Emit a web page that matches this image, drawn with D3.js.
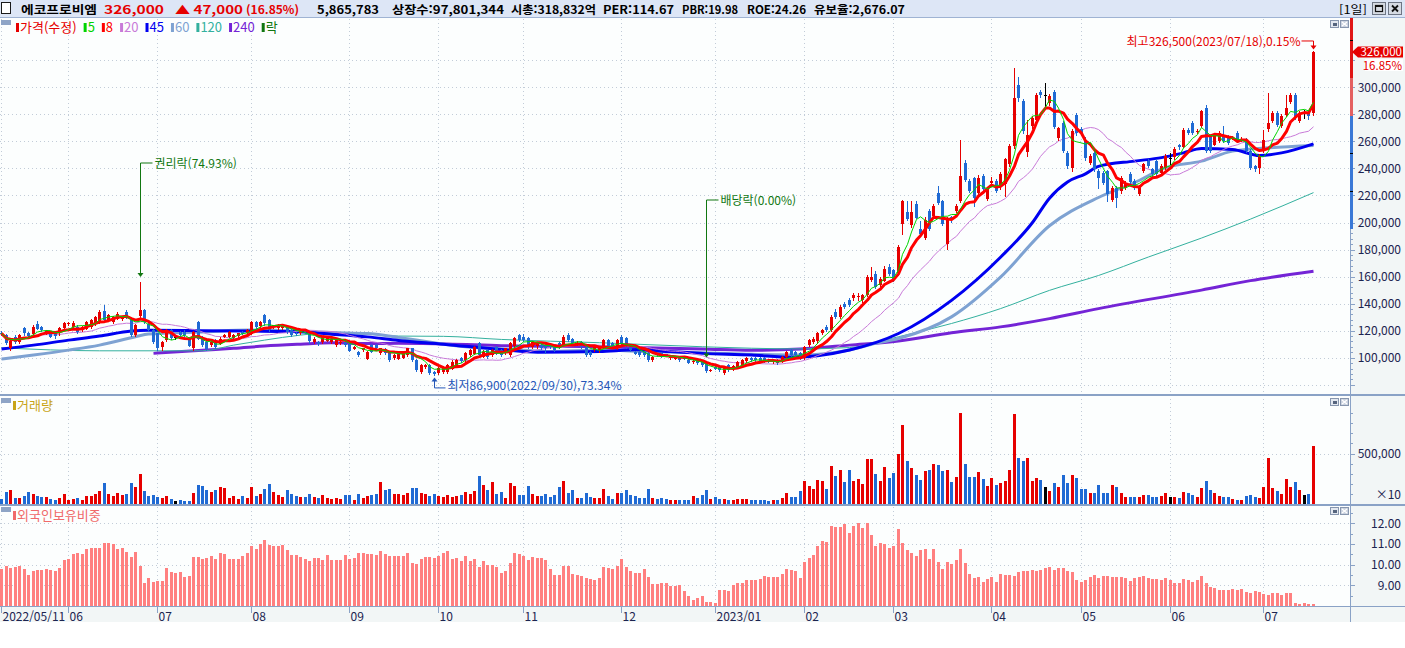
<!DOCTYPE html>
<html lang="ko">
<head>
<meta charset="utf-8">
<title>에코프로비엠 일봉</title>
<script src="https://cdn.jsdelivr.net/npm/d3@7/dist/d3.min.js"></script>
<style>
  html, body { margin: 0; padding: 0; background: #fff; overflow: hidden; }
  svg { display: block; }
  text { font-family: "Noto Sans CJK KR", "Noto Sans", sans-serif; }
</style>
</head>
<body>
<svg id="chart" width="1405" height="648"></svg>
<script>
// 가격은 천원, 거래량은 천주(화면 표시 x10) 단위
const UNIT = 1000;

const stockName = "에코프로비엠";
const tradeVolume = 5865783;
const listedShares = 97801344;
const marketCap = 318832; // 억
const per = 114.67;
const pbr = 19.98;
const roe = 24.26;
const reserveRatio = 2676.07;

const firstDay = "2022-05-11";
const lastDay = "2023-07-18";
const holidays = ["2022-06-01", "2022-06-06", "2022-08-15", "2022-09-09", "2022-09-12",
  "2022-10-03", "2022-10-10", "2022-12-30", "2023-01-23", "2023-01-24", "2023-03-01",
  "2023-05-01", "2023-05-05", "2023-05-29", "2023-06-06"];

const open = [
  118.5,116.7,106.9,115.4,111.8,121.6,118,117.9,125.2,122.8,
  117.9,119.1,117.9,117.9,122.3,124.8,122.8,122.8,120.4,121.6,
  122.8,125.2,126.5,134.5,127.7,126.5,128.9,128.5,133.8,127.7,
  116.7,130.6,135.1,125.2,120.4,117.9,108.1,113,120.4,115.4,
  119.1,119.1,114.2,106.9,126.5,115.4,111.8,109.3,113,110.5,
  115.4,115.4,114.2,115.4,119.1,117.9,117.9,126.5,123.3,131.4,
  127.7,122.8,121.6,121.6,122.8,120.4,118.4,117.9,119.6,117.9,
  111.8,111.8,111.8,113,111.8,109.3,111.3,111.8,110.5,106.9,
  104.4,105.6,99.5,109.3,109.3,103.2,106.1,103.2,99.5,99.5,
  100.2,102,106.9,98.3,89.7,93.4,94.6,89.7,88.5,89.7,
  89.7,92.2,93.4,99.6,98.3,102,103.2,110.6,100.8,105.7,
  102,108.2,105.7,103.2,102,108.2,116.7,115.5,114.3,108.2,
  108.2,109.4,109.4,108.5,108.2,110.6,110.6,116.7,113.5,110.1,
  111.8,108.2,104.5,105.7,105.2,108.2,113.1,110.6,106.9,115.5,
  114.3,109.4,104.5,104.5,104.5,103.2,98.3,103.2,103.7,102.5,
  99.3,99.3,100.3,100,98.3,96.6,98.3,97.1,95.9,90.5,
  93.4,93.4,88.5,94.7,91.5,93.4,94.7,97.1,99.6,99.6,
  99.6,99.6,98.3,96.6,98.3,97.1,100.8,105.7,104.5,103.2,
  99.6,109.3,111.8,111.8,117.9,122.8,120.4,133.8,130.2,140,
  142.4,143.6,144.5,142.4,146.1,157.1,162,153.5,157.1,166.9,
  164.5,162,198.8,207.5,197.6,214,195.1,188.5,208.6,204.9,
  222.1,216,184,203.7,208.6,216,244.2,230.7,233.1,222.1,
  234.3,217.2,229.5,230.7,225.8,228.2,242.9,256.4,301.7,289.5,
  252.7,271.1,276,296.5,294.4,288.2,296.8,262.5,273.5,251.5,
  240.4,279.7,269.4,261.3,244.1,251.5,238,236.8,238.1,217.2,
  225.8,223.4,225.8,235.6,230.7,220.9,238.1,245.4,239.3,245.4,
  236.8,240.5,247.9,247.9,257,256.4,268.7,273.5,266.8,271.2,
  284.6,263.8,257.7,260.1,263.8,263.8,262.1,266.3,261.1,261.3,
  252.8,241.7,240.5,252.8,268.7,274.8,281,271.2,279.7,289.5,
  294.4,274.8,281,281,281
];
const high = [
  120,117.5,113,116.5,117.5,122.5,119,124,127,123.5,
  120.5,120,118.5,122.5,126.5,126.5,127,124,123.5,127.5,
  128.5,131,135,138.7,132.5,131,134,130.5,135,128.5,
  125,155.9,136,126,121,118.5,112.5,121,121.5,117,
  120,120.5,115,120,127.5,116,112.5,112.5,114,115,
  117.5,120,117.5,118.5,119.5,121,127.5,127,127,132.6,
  128.5,124.5,125,124,123.5,121,119,121,120.5,118.5,
  115,112.5,116,115.5,115,113.5,112.5,112.5,111,108.5,
  105,107.5,105,110,110,107.5,107,104,102.5,105,
  105,107.5,107.5,99,95.5,95.5,95.5,90.5,93,94,
  95.5,98,99,100.5,104.5,106.5,109,111.5,105.5,106.5,
  106.5,109,106.5,107.5,111.5,115,117.5,117.5,115,112.5,
  111.5,110,110,109,109,111.5,116.5,118,114.5,112,
  112.5,109,105,109,107.5,114,114,111.5,114,116.7,
  115,110,105,105,105,104,101.5,103.8,104.5,103,
  101,101,101,100.5,99,98,99,97.8,96.5,92,
  94,94,93,95.5,94.5,97.8,99,100.3,100.3,100.3,
  100.5,100.5,99,98,99,101.5,105.3,106.5,105.3,104,
  109,114,115,119,121.5,124,131.5,136,139,141.5,
  144,147.5,147.5,147,161,167,164,159.5,168,169,
  165.5,183,217,216,216,216,201,204,210,214,
  227,217,204,205,214,261.3,246,232,234,235,
  236,226,234,232,237,248,258,314,307.7,291,
  276,279,296,298,303,295,298,271,275,253,
  269,281,271,263,251,253,239.5,238,239,227,
  227,234.5,231,237,232,228,244,247,240.5,247,
  243,250.5,251.5,255.5,258,270,270,275,269,283.5,
  287,265,266.5,267.5,271.2,265,264,267.5,263,262.5,
  254,242.5,250.5,268.7,295.7,282.5,282.5,280,294.4,296,
  296,282.5,283.5,282,326.5
];
const low = [
  116.5,110,105.6,111,111,117,115.5,117.5,121,119.5,
  117.5,115,114.5,117,121.5,124,122,118.5,119.5,121,
  122,124.5,126,127,127,126,128.5,128,129,116,
  116,130,126,119.5,111,106,105.6,112.5,113.5,114,
  116,116,108.5,106,113.5,108.5,106,108.5,107.5,110,
  115,115,113.5,115,117.5,117.5,117.5,122,122.5,124.5,
  119.5,122,121,121,118.5,116,116.5,117.5,118,111,
  111,109.5,111,112.5,111,108.5,110.5,108.5,105,106.5,
  101.5,105,99,104,106.5,102.5,102.5,97.5,99,99,
  99.5,101.5,97.5,90,89,92.5,88,86.9,88,89,
  89,91.5,93,96.5,97.5,101.5,102.5,101.5,100.5,100,
  101.5,102.5,101.5,102.5,101.5,107.5,112.5,112.5,107.5,107.5,
  107.5,106.5,103.2,107,105,107.5,110,112.5,110,109.5,
  107.5,101.5,101.5,105,104.5,107.5,107.5,107.5,106.5,110,
  107.5,105,102.5,101.5,101.5,97.5,97.5,101.5,100.8,101,
  98.8,98.8,97.8,98.8,96,96.2,95.5,94.2,89.3,90,
  91.5,90.5,88,90.5,91,93,94.2,96.5,97.8,97.8,
  96.6,96.6,96.6,96,95.4,96.6,100.3,101.5,101.5,99,
  99,108.5,111,111,117.5,119.5,119.5,129.5,129.5,136.5,
  138,143,143,141.5,145.5,156.5,151.5,153,156.5,161.5,
  156.5,161.5,191.5,201.5,196.5,203,190.5,188,194.5,204,
  214,198,180.4,200.5,207.5,215,231,222.5,212.3,221,
  223.5,216.5,228.5,222.5,225,219.6,242,255,290,266,
  249,270,275,293,284.6,287,270,261,252,240.5,
  238,265,264.5,246.5,243,238,225.7,228.5,216,216,
  211.1,222,224.5,228.5,225,220,237,241,234.5,234.5,
  236,239.5,243,247,254.5,255.5,265.5,265.5,266,270.5,
  252,252,257,259.5,259.5,258,261.5,259.5,260.5,252,
  239.5,238,236.8,252,267.5,274,271.5,270.5,279,288.5,
  276.5,274,277.3,276.5,279.5
];
const close = [
  118,110.5,112.3,111.8,116.7,117.9,116,122.8,121.6,120.4,
  119.9,115.4,115.4,121.6,125.7,125.5,125.7,119.1,122.8,126.5,
  127.7,130.1,133.8,127.7,131.4,130.1,132.6,129.5,129.7,116.7,
  124,135.1,126.5,120.4,111.8,106.9,111.8,120.4,114.2,115.4,
  116.7,116.7,109.3,119.1,114.2,109.3,106.9,111.8,108.1,114.2,
  116.7,119.1,116.7,117.9,117.9,120.4,126.5,122.8,126.5,125.2,
  120.4,124,124,123.3,119.1,116.7,117.4,120.4,118.9,111.8,
  114.2,110,115.4,114.9,114.2,113,111.8,109.3,105.6,108.1,
  102,106.9,104.4,104.4,106.9,106.9,103.2,98.3,102,104.4,
  104.4,106.9,98.3,90.9,94.6,94.6,88.5,88.5,92.1,93.4,
  94.6,97.1,98.3,97.1,103.7,105.7,108.2,102,104.5,100.8,
  105.7,103.2,102,106.9,110.6,114.3,113.1,113.1,108.2,111.8,
  110.6,106.9,107.5,107.8,105.7,108.2,115.5,113.1,110.6,111.1,
  108.2,102,102,108.2,106.9,113.1,108.2,108.2,113.1,110.6,
  108.2,105.7,103.2,102,102,98.3,100.8,102,101.3,101.5,
  100.3,100.1,98.3,99.3,96.4,97.4,95.9,94.7,89.8,91.2,
  92.2,91,92.2,91,93.9,97.1,98.3,99.6,98.3,98.3,
  97.1,97.1,97.1,97.4,95.9,100.8,104.5,102,102,99.6,
  108.1,113,114.2,117.9,120.4,120.4,130.2,130.2,137.5,137.5,
  138.8,146.1,145.5,146.1,159.6,159.6,152.2,158.3,165.7,162,
  157.1,181.6,216,202.5,207.5,203.7,191.5,201.8,195.1,212.3,
  214.7,198.8,202.5,201.3,212.3,234.3,231.9,223.3,218.4,233.1,
  224.5,224.5,231,223.3,235.6,246.6,256.4,291.9,292,267.4,
  265,277.2,294.4,294.5,294.4,293.2,271.1,269.9,252.7,241.7,
  268,266.2,265.7,247.8,249,239.3,233.1,229.5,220.9,225.8,
  218.5,233.2,229.5,229.5,225.8,227,243,241.7,235.6,235.6,
  241.7,249.1,247.9,254,255.7,268.7,266.3,266.3,267.8,282.2,
  252.8,252.8,265,266.3,260.1,258.9,263.1,260.1,262.1,252.8,
  240.5,239.3,249.1,261.3,273.5,281,272.4,278.5,284.6,294.4,
  277.3,281,281,279,326
];
const volume = [
  53,116,136,56,56,76,116,103,76,66,
  66,46,36,56,96,36,46,56,36,76,
  76,96,126,205,96,76,106,86,96,205,
  165,294,126,76,86,66,56,76,46,26,
  36,26,26,106,185,175,136,116,136,165,
  155,56,76,46,76,56,165,76,96,146,
  195,116,86,66,136,96,76,66,66,96,
  66,56,86,56,46,56,46,86,86,36,
  96,56,76,86,96,215,136,146,96,96,
  86,106,155,155,106,96,76,96,76,66,
  86,66,76,86,116,96,126,275,185,136,
  215,96,116,56,205,175,86,86,175,96,
  76,76,96,66,86,165,225,106,136,56,
  56,106,66,56,56,146,76,46,106,106,
  136,86,76,56,56,146,56,46,56,46,
  36,36,36,36,36,76,56,
  86,136,46,66,46,46,36,36,46,46,
  46,36,36,36,36,26,36,36,56,106,
  66,66,126,225,175,146,235,225,146,374,
  275,334,215,334,225,245,195,443,443,294,
  225,364,255,304,493,781,423,354,284,235,
  324,334,394,384,324,334,215,265,900,394,
  265,265,314,245,175,255,185,205,225,334,
  890,453,423,453,225,255,235,165,126,205,
  165,284,205,284,255,146,146,106,106,185,
  106,106,185,165,106,66,66,66,66,86,86,
  66,66,76,106,66,66,56,116,106,86,
  66,155,225,136,106,76,66,66,46,36,
  36,76,86,66,56,165,453,155,126,96,
  245,165,215,136,86,96,572
];
const foreignRatio = [
  9.79,9.94,9.86,9.91,9.94,9.79,9.50,9.70,9.74,9.74,
  9.79,9.74,9.70,9.84,10.23,10.27,10.52,10.56,10.52,10.76,
  10.80,10.80,10.80,11.05,11.05,11.00,10.76,10.80,10.61,10.37,
  10.61,9.94,9.12,9.36,9.18,9.21,9.21,9.84,9.65,9.60,
  9.65,9.41,9.46,10.37,10.37,10.29,10.32,10.42,10.27,10.56,
  10.52,10.27,10.27,10.27,10.42,10.56,10.90,10.76,11.00,11.19,
  10.95,10.90,10.90,10.95,10.71,10.47,10.47,10.37,10.27,10.18,
  10.32,10.32,10.23,10.47,10.23,10.23,10.23,10.47,10.27,10.32,
  10.56,10.56,10.52,10.52,10.47,10.66,10.52,10.42,10.42,10.42,
  10.42,10.56,10.08,10.03,10.27,10.37,10.37,10.32,10.42,10.56,
  10.66,10.27,10.32,10.18,10.42,10.18,10.27,9.89,10.18,9.99,
  9.99,9.89,9.60,9.70,10.08,10.56,10.52,10.42,10.23,10.37,
  10.32,10.32,10.23,9.79,9.50,9.50,9.94,9.94,9.55,9.50,
  9.46,9.36,9.31,9.26,9.36,9.89,9.84,9.79,9.94,10.27,
  9.89,9.70,9.60,9.60,9.79,9.41,9.07,9.07,9.12,9.12,
  8.97,8.97,9.02,8.73,8.49,8.30,8.40,
  8.49,8.20,8.20,8.15,8.78,8.78,8.73,9.02,9.12,9.12,
  9.26,9.26,9.26,9.31,9.46,9.41,9.41,9.41,9.55,9.79,
  9.74,9.70,9.36,10.13,10.32,10.47,10.90,11.15,11.10,11.86,
  11.82,11.82,11.96,11.53,11.86,12.01,11.77,12.01,11.43,10.90,
  11.05,11.00,10.80,10.90,11.72,11.05,10.71,10.56,10.42,10.71,
  10.76,10.27,10.76,10.13,9.79,10.13,10.03,10.23,10.76,10.08,
  9.55,9.36,9.41,9.17,9.31,9.41,9.17,9.55,9.50,9.50,
  9.46,9.65,9.70,9.70,9.74,9.70,9.74,9.84,9.89,9.74,
  9.84,9.84,9.70,9.65,9.26,9.17,9.26,9.41,9.50,9.36,9.46,
  9.46,9.41,9.41,9.41,9.36,9.21,9.36,9.41,9.46,9.36,
  9.31,9.31,9.26,9.36,9.26,9.12,9.12,9.31,9.26,9.17,
  9.26,9.46,9.12,8.93,8.88,8.78,8.78,8.78,8.83,8.78,
  8.83,8.68,8.64,8.73,8.68,8.59,8.54,8.64,8.64,8.54,
  8.64,8.64,8.15,8.11,8.15,8.11,8.11
];

// 장기 이동평균: 거래일 번호, 값(천원)
const ma45Points = [[0,106.5],[7,109.3],[15,113],[22,116],[29,119.8],[33,120.3],[45,120],[56,119.7],
  [65,119.3],[74,117.4],[82,115.4],[89,112.8],[99,110],[112,106],[120,104],[134,104.5],[142,105.8],
  [150,104.5],[157,103.2],[168,102],[177,100.3],[183,101.5],[190,105.7],[201,117.9],[213,142.4],
  [224,174.3],[231,200],[235,218],[239,230],[243,236],[246,241.5],[254,245.4],[260,248],[265,251.5],
  [269,254.7],[276,254],[282,249.5],[287,251.5],[294,258.2]];
const ma60Points = [[0,99],[7,102],[15,105.6],[22,109.3],[30,115.5],[33,117.5],[45,119.1],[56,120.4],
  [67,119.6],[74,118.6],[82,117.9],[89,115],[104,108.1],[114,106.2],[123,104.5],[134,105.7],[145,104.5],
  [157,103.7],[168,102.5],[179,102],[190,105.7],[196,110.6],[201,114.2],[213,130.2],[224,159.6],
  [235,197.6],[246,218.5],[254,229.5],[261,240.5],[269,245.4],[276,252.8],[284,255.2],[294,257]];
const ma120Points = [[0,107.3],[22,105.1],[45,105.1],[52,109.3],[59,113],[67,116.7],[74,118.4],[82,117.4],
  [89,116],[99,115.8],[112,113.5],[134,111.1],[157,108.1],[179,106.5],[190,107.5],[201,115.5],[213,125.3],
  [224,136.3],[235,149.8],[246,160.8],[257,174.5],[269,188.5],[280,202.5],[294,222.1]];
const ma240Points = [[34,103.2],[45,105.6],[52,106.9],[59,108.6],[67,110],[74,111],[82,110.5],[89,110.6],
  [100,110.2],[112,108.9],[134,108.1],[157,106.5],[168,105.5],[179,106.5],[190,109.3],[201,112.3],
  [213,118.4],[224,122.8],[235,128.9],[246,136.3],[269,150],[280,157],[294,164]];

const events = [
  { date: "2022-06-27", label: "권리락(74.93%)" },
  { date: "2022-12-28", label: "배당락(0.00%)" }
];

const Chart = {
  plotRight: 1350,
  price: { top: 18, bottom: 394.5 },
  eventLabelY: [163, 200],
  colors: {
    up: "#e60000", down: "#1f6ad4", flat: "#000000",
    ma5: "#00d400", ma8: "#ff0000", ma20: "#c87ad8", ma45: "#0000f0",
    ma60: "#7ea2d2", ma120: "#33b09e", ma240: "#7424d6",
    grid: "#c2ccd8", axis: "#8aa2c6", axisText: "#1c2450",
    panelBg: "#fcfefe", axisBg: "#f2f6f6", header: "#dde6f6",
    foreign: "#ff8080", event: "#117711", low: "#2456b8",
    volLegend: "#c8a418", foreignLegend: "#f06a6a", corner: "#8ea4c6"
  },

  init() {
    this.svg = d3.select("#chart");
    this.days = this.tradingDays();
    if (this.days.length !== close.length) console.error("trading days", this.days.length, close.length);
    this.bars = close.map((c, i) => ({
      i, date: this.days[i],
      o: open[i] * UNIT, h: high[i] * UNIT, l: low[i] * UNIT, c: c * UNIT,
      v: volume[i] * UNIT, f: foreignRatio[i]
    }));
    this.monthStarts = this.bars.filter((b, i) =>
      i === 0 || b.date.getUTCMonth() !== this.bars[i - 1].date.getUTCMonth());

    this.x = d3.scaleBand().domain(d3.range(this.bars.length))
      .range([-0.93, 1314.77]).paddingInner(0.33).paddingOuter(0.165);
    this.y = d3.scaleLinear().domain([100000, 300000]).range([357.7, 87.3]);
    this.yVol = d3.scaleLinear().domain([0, 500000]).range([504, 453.5]);
    this.yFrgn = d3.scaleLinear().domain([8, 12]).range([606.2, 523.2]);

    this.renderFrame();
    this.renderGrid();
    this.renderPrice();
    this.renderVolume();
    this.renderForeign();
    this.renderAxes();
    this.renderHeader();
    this.renderLegends();
  },

  tradingDays() {
    const key = d3.utcFormat("%Y-%m-%d");
    const off = new Set(holidays);
    const end = d3.utcDay.offset(new Date(lastDay), 1);
    return d3.utcDay.range(new Date(firstDay), end)
      .filter(d => d.getUTCDay() % 6 !== 0 && !off.has(key(d)));
  },

  cx(i) {
    return Math.round(this.x(i) + this.x.bandwidth() / 2);
  },

  tone(d) {
    if (d.c > d.o) return this.colors.up;
    if (d.c < d.o) return this.colors.down;
    return this.colors.flat;
  },

  movingAverage(n) {
    return this.bars.map((b, i) =>
      [i, d3.mean(this.bars.slice(Math.max(0, i - n + 1), i + 1), d => d.c) / UNIT]);
  },

  renderFrame() {
    const c = this.colors;
    this.svg.append("rect").attr("width", 1405).attr("height", 648).attr("fill", "#ffffff");
    this.svg.append("rect").attr("x", 0).attr("y", 18).attr("width", this.plotRight)
      .attr("height", 589).attr("fill", c.panelBg);
    this.svg.append("rect").attr("x", this.plotRight).attr("y", 18).attr("width", 1405 - this.plotRight)
      .attr("height", 604).attr("fill", c.axisBg);
    this.svg.append("rect").attr("x", 0).attr("y", 607).attr("width", 1405)
      .attr("height", 15).attr("fill", c.axisBg);
  },

  renderGrid() {
    const g = this.svg.append("g")
      .attr("stroke", this.colors.grid)
      .attr("stroke-dasharray", "1,3")
      .attr("shape-rendering", "crispEdges");
    g.selectAll(".vgrid").data(this.monthStarts).join("line").attr("class", "vgrid")
      .attr("x1", d => this.cx(d.i) + 0.5).attr("x2", d => this.cx(d.i) + 0.5)
      .attr("y1", 19).attr("y2", 606);
    const hLine = (cls, values, scale) => g.selectAll("." + cls).data(values).join("line")
      .attr("class", cls)
      .attr("x1", 0).attr("x2", this.plotRight)
      .attr("y1", d => Math.round(scale(d)) + 0.5).attr("y2", d => Math.round(scale(d)) + 0.5);
    hLine("pgrid", d3.range(80000, 320001, 20000), this.y);
    hLine("vgrid2", [500000], this.yVol);
    hLine("fgrid", [9, 10, 11, 12], this.yFrgn);
  },

  renderPrice() {
    const c = this.colors;
    this.svg.append("clipPath").attr("id", "clip-price").append("rect")
      .attr("x", 0).attr("y", this.price.top)
      .attr("width", this.plotRight).attr("height", this.price.bottom - this.price.top);
    const g = this.svg.append("g").attr("clip-path", "url(#clip-price)");

    const smooth = d3.line().x(d => this.cx(d[0]) + 0.5).y(d => this.y(d[1] * UNIT))
      .curve(d3.curveMonotoneX);
    const straight = d3.line().x(d => this.cx(d[0]) + 0.5).y(d => this.y(d[1] * UNIT));
    const drawLine = (pts, gen, color, w) => g.append("path").datum(pts)
      .attr("d", gen).attr("fill", "none").attr("stroke", color)
      .attr("stroke-width", w).attr("stroke-linejoin", "round");

    drawLine(ma240Points, smooth, c.ma240, 3);
    drawLine(ma120Points, smooth, c.ma120, 1);
    drawLine(ma60Points, smooth, c.ma60, 3);
    drawLine(ma45Points, smooth, c.ma45, 3);
    drawLine(this.movingAverage(20), straight, c.ma20, 1);

    const candles = g.append("g").attr("shape-rendering", "crispEdges")
      .selectAll("g").data(this.bars).join("g");
    candles.append("line")
      .attr("x1", d => this.cx(d.i) + 0.5).attr("x2", d => this.cx(d.i) + 0.5)
      .attr("y1", d => Math.round(this.y(d.h))).attr("y2", d => Math.round(this.y(d.l)) + 1)
      .attr("stroke", d => this.tone(d));
    candles.append("rect")
      .attr("x", d => this.cx(d.i) - 1).attr("width", 3)
      .attr("y", d => Math.round(this.y(Math.max(d.o, d.c))))
      .attr("height", d => Math.max(1, Math.round(Math.abs(this.y(d.o) - this.y(d.c)))))
      .attr("fill", d => this.tone(d));

    drawLine(this.movingAverage(8), straight, c.ma8, 3);
    drawLine(this.movingAverage(5), straight, c.ma5, 1);

    this.renderAnnotations(g);
  },

  renderAnnotations(g) {
    const c = this.colors;
    const num = d3.format(",");
    const pct = d3.format(".2f");
    const fmtDate = d3.utcFormat("%Y/%m/%d");
    const last = this.bars[this.bars.length - 1].c;

    const hi = d3.greatest(this.bars, d => d.h);
    const hx = this.cx(hi.i) + 0.5, hy = this.y(hi.h);
    g.append("path").attr("d", `M${hx - 12},${hy - 10.5}H${hx}V${hy - 5}`)
      .attr("fill", "none").attr("stroke", c.up);
    g.append("path").attr("d", `M${hx - 3},${hy - 6}L${hx + 3},${hy - 6}L${hx},${hy - 2}Z`).attr("fill", c.up);
    g.append("text").attr("x", hx - 13).attr("y", hy - 5.5).attr("text-anchor", "end")
      .attr("font-size", 12).attr("fill", c.up)
      .text(`최고${num(hi.h)}(${fmtDate(hi.date)}),${pct((hi.h - last) / last * 100)}%`);

    const lo = d3.least(this.bars, d => d.l);
    const lx = this.cx(lo.i) + 0.5, ly = this.y(lo.l);
    g.append("path").attr("d", `M${lx},${ly + 5}V${ly + 12.5}H${lx + 11}`)
      .attr("fill", "none").attr("stroke", c.low);
    g.append("path").attr("d", `M${lx - 3},${ly + 6}L${lx + 3},${ly + 6}L${lx},${ly + 2}Z`).attr("fill", c.low);
    g.append("text").attr("x", lx + 13).attr("y", ly + 15).attr("font-size", 12).attr("fill", c.low)
      .text(`최저${num(lo.l)}(${fmtDate(lo.date)}),${pct((last - lo.l) / last * 100)}%`);

    const key = d3.utcFormat("%Y-%m-%d");
    events.forEach((ev, k) => {
      const bar = this.bars.find(b => key(b.date) === ev.date);
      if (!bar) return;
      const ex = this.cx(bar.i) + 0.5, ey = this.y(bar.h) - 5, ty = this.eventLabelY[k];
      g.append("path").attr("d", `M${ex + 12},${ty}H${ex}V${ey - 4}`)
        .attr("fill", "none").attr("stroke", c.event);
      g.append("path").attr("d", `M${ex - 3},${ey - 4}L${ex + 3},${ey - 4}L${ex},${ey}Z`).attr("fill", c.event);
      g.append("text").attr("x", ex + 14).attr("y", ty + 4.5).attr("font-size", 12)
        .attr("fill", c.event).text(ev.label);
    });
  },

  renderVolume() {
    this.svg.append("g").attr("shape-rendering", "crispEdges")
      .selectAll("rect").data(this.bars).join("rect")
      .attr("x", d => this.cx(d.i) - 1).attr("width", 3)
      .attr("y", d => Math.round(this.yVol(d.v)))
      .attr("height", d => 504 - Math.round(this.yVol(d.v)))
      .attr("fill", d => this.tone(d));
  },

  renderForeign() {
    this.svg.append("g").attr("shape-rendering", "crispEdges")
      .selectAll("rect").data(this.bars).join("rect")
      .attr("x", d => this.cx(d.i) - 1).attr("width", 3)
      .attr("y", d => Math.round(this.yFrgn(d.f)))
      .attr("height", d => 606 - Math.round(this.yFrgn(d.f)))
      .attr("fill", this.colors.foreign);
  },

  renderAxes() {
    const c = this.colors;
    const svg = this.svg;
    const num = d3.format(",");
    const ax = svg.append("g").attr("shape-rendering", "crispEdges");

    // panel borders
    [394.5, 504.5, 606.5].forEach(yy => ax.append("line")
      .attr("x1", 0).attr("x2", 1405).attr("y1", yy).attr("y2", yy)
      .attr("stroke", c.axis).attr("stroke-width", yy < 600 ? 2 : 1));
    ax.append("line").attr("x1", this.plotRight + 0.5).attr("x2", this.plotRight + 0.5)
      .attr("y1", 18).attr("y2", 622).attr("stroke", c.axis);

    const tick = (yy, len) => ax.append("line")
      .attr("x1", this.plotRight).attr("x2", this.plotRight + len)
      .attr("y1", Math.round(yy) + 0.5).attr("y2", Math.round(yy) + 0.5).attr("stroke", c.axis);
    const label = (yy, txt) => svg.append("text").attr("x", 1401).attr("y", yy + 4.5)
      .attr("text-anchor", "end").attr("font-size", 12).attr("fill", c.axisText).text(txt);

    // price axis
    d3.range(80000, 332001, 4000).forEach(v => {
      const yy = this.y(v);
      if (yy > 20 && yy < 393) tick(yy, v % 20000 === 0 ? 5 : 3);
    });
    d3.range(100000, 300001, 20000).forEach(v => label(this.y(v), num(v)));

    // daily limit band (전일 종가 기준 ±30%)
    const prev = this.bars[this.bars.length - 2].c;
    const last = this.bars[this.bars.length - 1].c;
    const band = [[1.1, 1.3, "#e01515"], [1.0, 1.1, "#e46060"], [0.7, 1.0, "#3a78d6"]];
    band.forEach(([a, b, col]) => {
      const y0 = Math.max(18, this.y(prev * b)), y1 = this.y(prev * a);
      ax.append("rect").attr("x", this.plotRight).attr("y", y0).attr("width", 3)
        .attr("height", y1 - y0).attr("fill", col);
    });
    [1.2, 0.9, 0.8].forEach(m => ax.append("rect").attr("x", this.plotRight)
      .attr("y", Math.round(this.y(prev * m))).attr("width", 3).attr("height", 1).attr("fill", "#000"));

    // current price box
    const py = Math.round(this.y(last));
    svg.append("path")
      .attr("d", `M${this.plotRight + 2},${py}L${this.plotRight + 8},${py - 5.5}H1403V${py + 5.5}H${this.plotRight + 8}Z`)
      .attr("fill", c.up);
    svg.append("text").attr("x", 1402).attr("y", py + 4).attr("text-anchor", "end")
      .attr("font-size", 11.5).attr("fill", "#fff").text(num(last));
    svg.append("rect").attr("x", 1365).attr("y", py + 7).attr("width", 38).attr("height", 12).attr("fill", "#fff");
    svg.append("text").attr("x", 1402).attr("y", py + 17.5).attr("text-anchor", "end")
      .attr("font-size", 11.5).attr("fill", c.up)
      .text(`${d3.format(".2f")((last - prev) / prev * 100)}%`);

    // volume axis
    d3.range(100000, 900001, 100000).forEach(v => tick(this.yVol(v), v === 500000 ? 5 : 3));
    label(this.yVol(500000), num(500000));
    svg.append("text").attr("x", 1401).attr("y", 499).attr("text-anchor", "end")
      .attr("font-size", 12).attr("fill", c.axisText).text("×10");

    // foreign ratio axis
    d3.range(8.5, 12.6, 0.5).forEach(v => tick(this.yFrgn(v), Number.isInteger(v) ? 5 : 3));
    [9, 10, 11, 12].forEach(v => label(this.yFrgn(v), d3.format(".2f")(v)));

    // date axis
    const fmtFirst = d3.utcFormat("%Y/%m/%d"), fmtYear = d3.utcFormat("%Y/%m"), fmtMonth = d3.utcFormat("%m");
    this.monthStarts.forEach((b, k) => {
      const xx = this.cx(b.i) + 0.5;
      ax.append("line").attr("x1", xx).attr("x2", xx).attr("y1", 607).attr("y2", 613).attr("stroke", c.axis);
      const txt = k === 0 ? fmtFirst(b.date) : b.date.getUTCMonth() === 0 ? fmtYear(b.date) : fmtMonth(b.date);
      svg.append("text").attr("x", xx + 1).attr("y", 620.5).attr("font-size", 12)
        .attr("fill", c.axisText).text(txt);
    });

    // panel corner icons
    [20, 398, 507].forEach(top => {
      ax.append("rect").attr("x", 1).attr("y", top).attr("width", 10).attr("height", 5).attr("fill", c.corner);
      ax.append("rect").attr("x", 1330.5).attr("y", top + 0.5).attr("width", 8).attr("height", 7)
        .attr("fill", "#e3e8f0").attr("stroke", "#8796ae");
      ax.append("rect").attr("x", 1332.5).attr("y", top + 2.5).attr("width", 4).attr("height", 3).attr("fill", "#56657e");
      ax.append("rect").attr("x", 1340.5).attr("y", top + 0.5).attr("width", 8).attr("height", 7)
        .attr("fill", "#c9d1de").attr("stroke", "#8796ae");
      ax.append("path").attr("d", `M1342,${top + 2}L1347,${top + 6}M1347,${top + 2}L1342,${top + 6}`)
        .attr("stroke", "#ffffff").attr("stroke-width", 1.3).attr("shape-rendering", "auto");
    });
  },

  renderHeader() {
    const c = this.colors;
    const g = this.svg.append("g");
    const num = d3.format(",");
    g.append("rect").attr("width", 1405).attr("height", 17).attr("fill", c.header);
    g.append("line").attr("x1", 0).attr("x2", 1405).attr("y1", 17.5).attr("y2", 17.5).attr("stroke", "#9fb3d3");
    g.append("rect").attr("x", 1.5).attr("y", 2.5).attr("width", 9).attr("height", 11)
      .attr("fill", "#fff").attr("stroke", "#1a1a1a");

    const n = this.bars.length;
    const last = this.bars[n - 1].c, prev = this.bars[n - 2].c, diff = last - prev;
    // x: 시작 위치, w: 글자 폭
    const items = [
      { x: 21, w: 76, text: stockName, color: "#000" },
      { x: 104, w: 60, text: num(last), color: c.up },
      { x: 175, w: 68, text: `${diff >= 0 ? "▲" : "▼"} ${num(Math.abs(diff))}`, color: c.up },
      { x: 246, w: 53, text: `(${d3.format(".2f")(diff / prev * 100)}%)`, color: c.up },
      { x: 317, w: 62, text: num(tradeVolume), color: "#000" },
      { x: 392, w: 112, text: `상장수:${num(listedShares)}`, color: "#000" },
      { x: 511, w: 85, text: `시총:${num(marketCap)}억`, color: "#000" },
      { x: 603, w: 71, text: `PER:${per.toFixed(2)}`, color: "#000" },
      { x: 682, w: 56, text: `PBR:${pbr.toFixed(2)}`, color: "#000" },
      { x: 747, w: 59, text: `ROE:${roe.toFixed(2)}`, color: "#000" },
      { x: 814, w: 91, text: `유보율:${d3.format(",.2f")(reserveRatio)}`, color: "#000" }
    ];
    g.selectAll("text.hd").data(items).join("text").attr("class", "hd")
      .attr("x", d => d.x).attr("y", 13.5).attr("font-size", 11.5).attr("font-weight", "bold")
      .attr("textLength", d => d.w).attr("lengthAdjust", "spacingAndGlyphs")
      .attr("fill", d => d.color).text(d => d.text);

    g.append("text").attr("x", 1339).attr("y", 13.5).attr("font-size", 11.5)
      .attr("textLength", 28).attr("lengthAdjust", "spacingAndGlyphs").attr("fill", "#000").text("[1일]");
    [1372.5, 1388.5].forEach((bx, k) => {
      g.append("rect").attr("x", bx).attr("y", 2.5).attr("width", 13).attr("height", 12)
        .attr("fill", "#d6dbe3").attr("stroke", "#6e7684");
      if (k === 0) {
        g.append("rect").attr("x", bx + 3).attr("y", 5.5).attr("width", 7).attr("height", 6)
          .attr("fill", "none").attr("stroke", "#111").attr("stroke-width", 1.2);
        g.append("rect").attr("x", bx + 3).attr("y", 5).attr("width", 7).attr("height", 2).attr("fill", "#111");
      } else {
        g.append("path").attr("d", `M${bx + 3.5},${5.5}L${bx + 9.5},${11.5}M${bx + 9.5},${5.5}L${bx + 3.5},${11.5}`)
          .attr("stroke", "#111").attr("stroke-width", 1.8);
      }
    });
  },

  renderLegends() {
    const c = this.colors;
    const g = this.svg.append("g");
    const legend = (items, x0, top) => {
      let lx = x0;
      items.forEach(item => {
        g.append("rect").attr("x", lx).attr("y", top).attr("width", 3).attr("height", 9).attr("fill", item.color);
        const t = g.append("text").attr("x", lx + 4).attr("y", top + 9).attr("font-size", 13)
          .attr("fill", item.color).text(item.label);
        lx += 4 + t.node().getComputedTextLength() + 7;
      });
    };
    legend([
      { label: "가격(수정)", color: c.up },
      { label: "5", color: c.ma5 },
      { label: "8", color: c.ma8 },
      { label: "20", color: c.ma20 },
      { label: "45", color: c.ma45 },
      { label: "60", color: c.ma60 },
      { label: "120", color: c.ma120 },
      { label: "240", color: c.ma240 },
      { label: "락", color: c.event }
    ], 16, 23);
    legend([{ label: "거래량", color: c.volLegend }], 13, 401);
    legend([{ label: "외국인보유비중", color: c.foreignLegend }], 13, 511);
  }
};

Chart.init();
</script>
</body>
</html>
